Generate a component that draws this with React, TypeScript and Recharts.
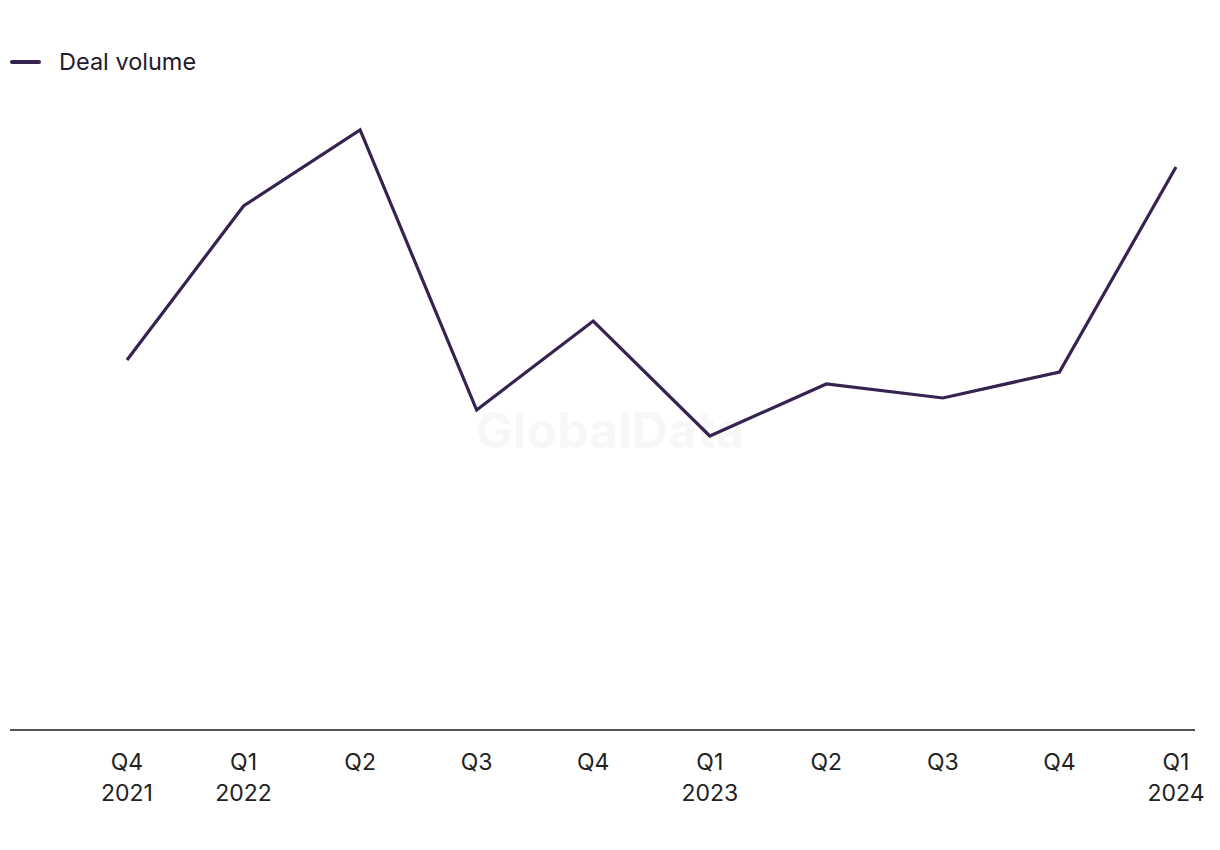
import React from "react"
import { LineChart, Line, XAxis, YAxis } from "recharts"

// quarter labels (two lines on the axis)
const quarters = ["Q4", "Q1", "Q2", "Q3", "Q4", "Q1", "Q2", "Q3", "Q4", "Q1"]
const years = ["2021", "2022", "", "", "", "2023", "", "", "", "2024"]
// deal volume (no axis shown)
const dealVolume = [37, 52.4, 60, 32, 40.9, 29.4, 34.6, 33.2, 35.8, 56.3]

const data = quarters.map((q, i) => ({
    key: `${q}-${i}`,
    quarter: q,
    year: years[i],
    volume: dealVolume[i]
}))

const FONT = "Inter, 'Noto Sans', sans-serif"
const LINE = "#36234f"

const QuarterTick = (props: any) => {
    const { x, y, payload } = props
    const row = data[payload.index] || data.find(d => d.key === payload.value)
    return (
        <g transform={`translate(${x},${y})`}>
            <text textAnchor="middle" fill="#222" fontSize={23} fontFamily={FONT}>
                <tspan x={0} dy={32}>{row?.quarter}</tspan>
                {row?.year && <tspan x={0} dy={31}>{row.year}</tspan>}
            </text>
        </g>
    )
}

export default function App() {
    return (
        <div style={{ position: "absolute", left: 0, top: 0, width: 1220, height: 850, background: "#fff" }}>
            {/* watermark */}
            <div
                style={{
                    position: "absolute",
                    left: 0,
                    width: 1220,
                    top: 400,
                    textAlign: "center",
                    fontFamily: FONT,
                    fontWeight: 700,
                    fontSize: 50,
                    color: "#f7f7f8"
                }}
            >
                GlobalData
            </div>
            {/* legend */}
            <div
                style={{
                    position: "absolute",
                    left: 10,
                    top: 47,
                    display: "flex",
                    alignItems: "center",
                    fontFamily: FONT
                }}
            >
                <span style={{ width: 31, height: 4, borderRadius: 2, background: LINE, display: "inline-block" }} />
                <span style={{ marginLeft: 18, fontSize: 23.5, color: "#1f1b2b" }}>Deal volume</span>
            </div>
            <LineChart
                width={1220}
                height={850}
                data={data}
                margin={{ top: 80, right: 25, left: 10, bottom: 0 }}
                style={{ position: "absolute", left: 0, top: 0 }}
            >
                <XAxis
                    dataKey="key"
                    height={120}
                    padding={{ left: 117, right: 19 }}
                    tickLine={false}
                    axisLine={{ stroke: "#1a1a1a", strokeWidth: 1.5 }}
                    tick={<QuarterTick />}
                    interval={0}
                />
                <YAxis hide domain={[0, 65]} />
                <Line
                    type="linear"
                    dataKey="volume"
                    name="Deal volume"
                    stroke={LINE}
                    strokeWidth={3.2}
                    dot={false}
                    activeDot={false}
                    isAnimationActive={false}
                />
            </LineChart>
        </div>
    )
}
